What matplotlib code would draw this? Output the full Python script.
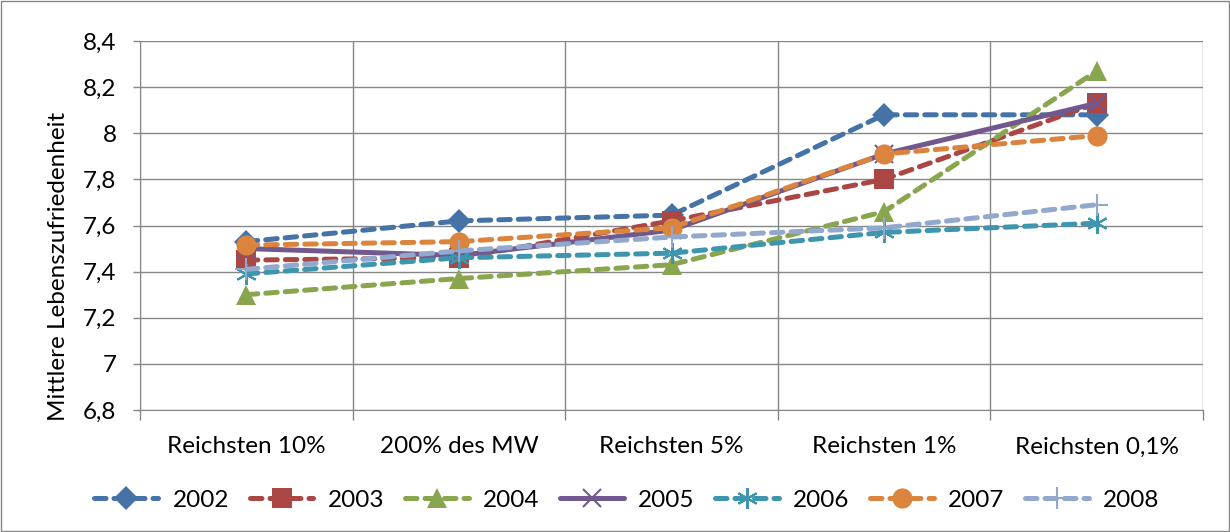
import matplotlib
matplotlib.use("Agg")
import matplotlib.pyplot as plt
from matplotlib.patches import Rectangle

categories = ["Reichsten 10%", "200% des MW", "Reichsten 5%", "Reichsten 1%", "Reichsten 0,1%"]
years = ["2002", "2003", "2004", "2005", "2006", "2007", "2008"]
v2002 = [7.53, 7.62, 7.645, 8.08, 8.08]
v2003 = [7.45, 7.46, 7.62, 7.80, 8.13]
v2004 = [7.30, 7.37, 7.43, 7.66, 8.27]
v2005 = [7.50, 7.47, 7.58, 7.91, 8.13]
v2006 = [7.39, 7.46, 7.48, 7.57, 7.61]
v2007 = [7.515, 7.53, 7.59, 7.91, 7.99]
v2008 = [7.41, 7.49, 7.55, 7.59, 7.69]
series = [v2002, v2003, v2004, v2005, v2006, v2007, v2008]
yticks = [6.8, 7.0, 7.2, 7.4, 7.6, 7.8, 8.0, 8.2, 8.4]
ytick_labels = ["6,8", "7", "7,2", "7,4", "7,6", "7,8", "8", "8,2", "8,4"]

colors = ['#4572A7', '#AA4643', '#89A54E', '#71588F', '#3D96AE', '#DB843D', '#92A8CD']
markers = ['D', 's', '^', 'x', '*', 'o', '+']
msizes = [12.5, 14, 15, 13, 15, 14.5, 16]
styles = [(0, (2.3, 1.6))] * 7
styles[3] = '-'

FS = 17.5
plt.rcParams['font.family'] = ['Lato', 'DejaVu Sans']
fig = plt.figure(figsize=(12.3, 5.32), dpi=100)
ax = fig.add_axes([140/1230, 1-410/532, (1203-140)/1230, (410-41)/532])

x = list(range(len(categories)))
handles = []
for i, (vals, yr) in enumerate(zip(series, years)):
    mk = markers[i]
    kw = dict(color=colors[i], lw=3.6, linestyle=styles[i], marker=mk, markersize=msizes[i],
              dash_capstyle='round', solid_capstyle='round', label=yr)
    if mk in ('x', '*', '+'):
        kw['markeredgewidth'] = 1.5
        if mk == '*':
            kw['marker'] = (6, 2, 0)
    else:
        kw['markeredgewidth'] = 0
    h, = ax.plot(x, vals, **kw)
    handles.append(h)

ax.set_xlim(-0.5, 4.5)
ax.set_ylim(6.8, 8.4)
ax.set_yticks(yticks)
ax.set_yticklabels(ytick_labels, fontsize=FS)
ax.set_xticks(x)
ax.set_xticklabels(categories, fontsize=FS)
ax.set_xticks([-0.5, 0.5, 1.5, 2.5, 3.5, 4.5], minor=True)
ax.tick_params(axis='x', which='major', length=0, pad=19)
ax.tick_params(axis='x', which='minor', length=7, color='#868686', width=1)
ax.tick_params(axis='y', length=5, color='#868686', width=1, direction='out', pad=12)
ax.grid(axis='y', color='#868686', lw=1)
ax.grid(axis='x', which='minor', color='#868686', lw=1)
ax.set_axisbelow(True)
for s in ['top', 'right']:
    ax.spines[s].set_visible(False)
for s in ['left', 'bottom']:
    ax.spines[s].set_color('#868686')
ax.set_ylabel("Mittlere Lebenszufriedenheit", fontsize=FS)
ax.yaxis.set_label_coords(69/1230, 0.5, transform=fig.transFigure)

fig.patches.append(Rectangle((1/1230, 1/532), 1228/1230, 530/532, transform=fig.transFigure,
                             fill=False, edgecolor='#868686', lw=1))

fig.legend(handles=handles, loc='center', bbox_to_anchor=(627/1230, 1-500/532), ncol=7,
           frameon=False, fontsize=FS, handlelength=2.63, columnspacing=0.85, handletextpad=0.58)

fig.savefig("out.png", dpi=100)
